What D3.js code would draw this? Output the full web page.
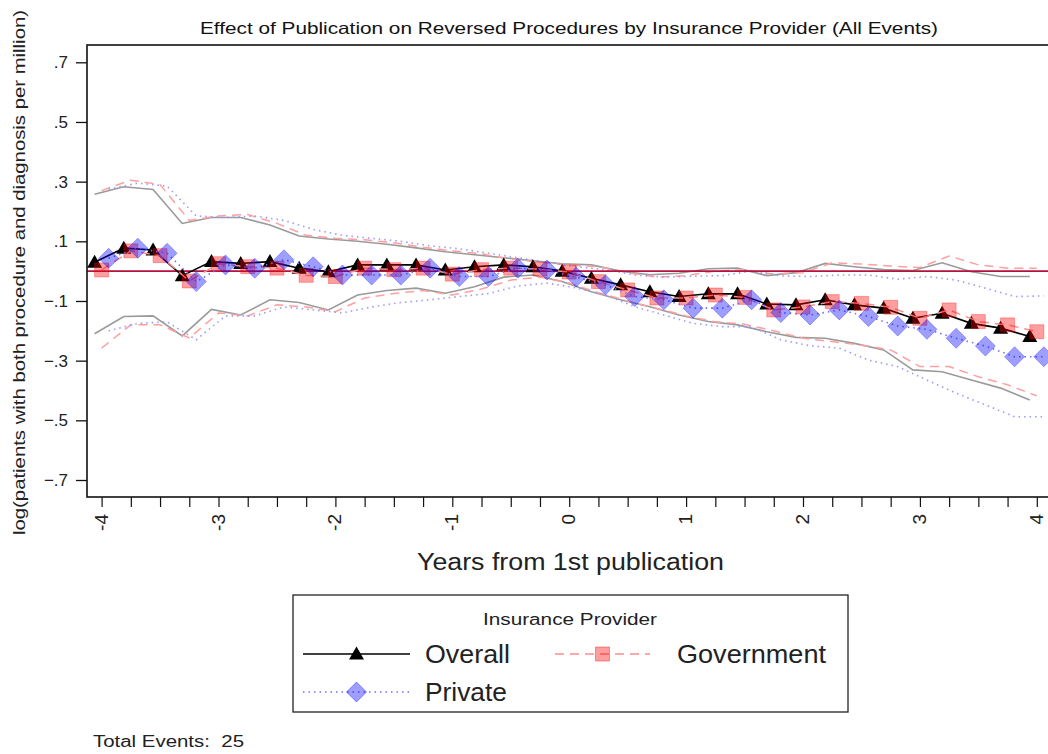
<!DOCTYPE html>
<html><head><meta charset="utf-8">
<script src="https://cdn.jsdelivr.net/npm/d3@7"></script>
<style>body{margin:0;background:#fff}svg{display:block;font-family:"Liberation Sans",Arial,Helvetica,sans-serif}</style>
</head><body><svg id="c" width="1048" height="754"></svg>
<script>
// ---- data ----
const years = [-4,-3.75,-3.5,-3.25,-3,-2.75,-2.5,-2.25,-2,-1.75,-1.5,-1.25,-1,-0.75,-0.5,-0.25,0,0.25,0.5,0.75,1,1.25,1.5,1.75,2,2.25,2.5,2.75,3,3.25,3.5,3.75,4];
const overall = [0.030,0.077,0.071,-0.015,0.032,0.026,0.032,0.010,-0.002,0.021,0.021,0.021,0.004,0.015,0.021,0.015,0.000,-0.024,-0.046,-0.069,-0.085,-0.076,-0.076,-0.110,-0.113,-0.096,-0.113,-0.124,-0.158,-0.141,-0.175,-0.191,-0.219];
const overallHi = [0.258,0.283,0.274,0.160,0.180,0.180,0.155,0.118,0.108,0.100,0.090,0.078,0.065,0.055,0.045,0.035,0.025,0.021,0.000,-0.012,-0.007,0.008,0.010,-0.015,-0.005,0.026,0.015,0.005,0.002,0.028,-0.002,-0.018,-0.018];
const overallLo = [-0.210,-0.152,-0.150,-0.217,-0.128,-0.147,-0.096,-0.105,-0.130,-0.080,-0.065,-0.057,-0.074,-0.052,-0.020,-0.013,-0.035,-0.069,-0.096,-0.119,-0.147,-0.169,-0.180,-0.203,-0.222,-0.225,-0.242,-0.264,-0.331,-0.337,-0.365,-0.392,-0.432];
const government = [0.004,0.068,0.052,-0.033,0.025,0.015,0.010,-0.014,-0.018,0.010,0.005,0.010,-0.010,0.005,0.010,0.007,-0.003,-0.035,-0.063,-0.090,-0.090,-0.080,-0.088,-0.130,-0.120,-0.102,-0.108,-0.121,-0.158,-0.130,-0.169,-0.180,-0.203];
const governmentHi = [0.270,0.305,0.290,0.170,0.185,0.190,0.160,0.120,0.110,0.105,0.095,0.080,0.068,0.058,0.040,0.030,0.020,0.015,-0.005,-0.020,-0.015,0.000,0.005,-0.010,-0.005,0.028,0.024,0.017,0.012,0.051,0.021,0.010,0.010];
const governmentLo = [-0.258,-0.180,-0.180,-0.224,-0.140,-0.150,-0.113,-0.120,-0.136,-0.090,-0.075,-0.065,-0.080,-0.060,-0.030,-0.020,-0.040,-0.072,-0.100,-0.125,-0.150,-0.170,-0.178,-0.200,-0.225,-0.236,-0.248,-0.264,-0.320,-0.320,-0.354,-0.381,-0.418];
const privateV = [0.043,0.077,0.060,-0.035,0.021,0.010,0.038,0.015,-0.013,-0.013,-0.013,0.010,-0.018,-0.018,0.010,0.004,-0.020,-0.046,-0.085,-0.096,-0.124,-0.124,-0.096,-0.139,-0.147,-0.130,-0.152,-0.184,-0.195,-0.225,-0.251,-0.287,-0.287];
const privateHi = [0.275,0.295,0.285,0.185,0.180,0.185,0.170,0.140,0.120,0.110,0.100,0.085,0.075,0.060,0.045,0.030,0.015,0.005,-0.013,-0.020,-0.017,-0.015,0.000,-0.016,-0.018,-0.013,-0.013,-0.027,-0.018,-0.030,-0.057,-0.085,-0.083];
const privateLo = [-0.200,-0.175,-0.170,-0.230,-0.150,-0.150,-0.120,-0.130,-0.140,-0.120,-0.105,-0.096,-0.085,-0.075,-0.050,-0.040,-0.056,-0.080,-0.119,-0.147,-0.175,-0.186,-0.186,-0.230,-0.250,-0.258,-0.298,-0.320,-0.365,-0.409,-0.448,-0.488,-0.488];
const xTicks = [-4,-3,-2,-1,0,1,2,3,4];
const yTicks = [0.7,0.5,0.3,0.1,-0.1,-0.3,-0.5,-0.7];
const seriesNames = ["Overall","Government","Private"];
const xShift = [-0.06,0,0.06];

// ---- layout ----
const svg = d3.select("#c");
const frame = {l:87, r:1052, t:45, b:497};
const x = d3.scaleLinear().domain([-4,4]).range([101.6,1036.8]);
const y = d3.scaleLinear().domain([-0.7,0.7]).range([480,62.3]);

function fitText(sel, len){ sel.attr("textLength",len).attr("lengthAdjust","spacingAndGlyphs"); return sel; }

// title
fitText(svg.append("text").attr("x",569).attr("y",34).attr("text-anchor","middle")
  .attr("font-size",16.5).attr("fill","#111")
  .text("Effect of Publication on Reversed Procedures by Insurance Provider (All Events)"), 738);

// y axis
const yAx = svg.append("g").attr("transform",`translate(${frame.l},0)`)
  .call(d3.axisLeft(y).tickValues(yTicks).tickSize(11).tickPadding(8)
    .tickFormat(d=>d3.format(".1f")(d).replace("0.",".")));
yAx.select(".domain").remove();
yAx.selectAll("line").attr("stroke","#111").attr("stroke-width",1.3);
yAx.selectAll("text").attr("font-size",17).attr("fill","#222").attr("font-family",null);

fitText(svg.append("text").attr("transform","translate(25,272.5) rotate(-90)")
  .attr("text-anchor","middle").attr("font-size",16).attr("fill","#222")
  .text("log(patients with both procedure and diagnosis per million)"), 525);

// x axis (quarterly ticks)
const xAx = svg.append("g").attr("transform",`translate(0,${frame.b})`)
  .call(d3.axisBottom(x).tickValues(years).tickSize(10).tickFormat(""));
xAx.select(".domain").remove();
xAx.selectAll("line").attr("stroke","#111").attr("stroke-width",1.2);
const xLab = svg.append("g");
xLab.selectAll("text").data(xTicks).join("text")
  .attr("transform",d=>`translate(${x(d)+6},${frame.b+17}) rotate(-90)`)
  .attr("text-anchor","end").attr("font-size",19).attr("fill","#222")
  .text(d=>String(d));
fitText(svg.append("text").attr("x",570.5).attr("y",570).attr("text-anchor","middle")
  .attr("font-size",23).attr("fill","#222").text("Years from 1st publication"), 307);

// plot area clip
svg.append("defs").append("clipPath").attr("id","pc").append("rect")
  .attr("x",frame.l).attr("y",frame.t).attr("width",frame.r-frame.l).attr("height",frame.b-frame.t);
const P = svg.append("g").attr("clip-path","url(#pc)");

const line = (vals, k) => d3.line().x((d,i)=>x(years[i]+xShift[k])).y(d=>y(d))(vals);

// CI lines
const ciStyles = [
  {stroke:"#9a9a9a", dash:null, w:1.6},
  {stroke:"#ff9f9f", dash:"9,6", w:1.5},
  {stroke:"#9a9aff", dash:"1.5,4", w:1.6}
];
[[overallHi,overallLo],[governmentHi,governmentLo],[privateHi,privateLo]].forEach((pair,k)=>{
  pair.forEach(v=>{
    P.append("path").attr("d",line(v,k)).attr("fill","none")
      .attr("stroke",ciStyles[k].stroke).attr("stroke-width",ciStyles[k].w)
      .attr("stroke-dasharray",ciStyles[k].dash);
  });
});

// zero line
P.append("line").attr("x1",frame.l).attr("x2",frame.r).attr("y1",y(0)).attr("y2",y(0))
  .attr("stroke","#b5123e").attr("stroke-width",1.6);

// marker shapes
const tri = "M0,-7.5L7.5,5.5L-7.5,5.5Z";
const sq = "M-7,-7H7V7H-7Z";
const dia = "M0,-10L10,0L0,10L-10,0Z";

// overall
P.append("path").attr("d",line(overall,0)).attr("fill","none").attr("stroke","#000").attr("stroke-width",1.6);
P.selectAll(".ov").data(overall).join("path").attr("class","ov")
  .attr("transform",(d,i)=>`translate(${x(years[i]+xShift[0])},${y(d)})`)
  .attr("d",tri).attr("fill","#000");
// government
P.append("path").attr("d",line(government,1)).attr("fill","none").attr("stroke","#ff8c8c")
  .attr("stroke-width",1.5).attr("stroke-dasharray","9,6");
P.selectAll(".gv").data(government).join("path").attr("class","gv")
  .attr("transform",(d,i)=>`translate(${x(years[i]+xShift[1])},${y(d)})`)
  .attr("d",sq).attr("fill","rgba(255,0,0,0.38)").attr("stroke","rgba(255,0,0,0.3)").attr("stroke-width",1);
// private
P.append("path").attr("d",line(privateV,2)).attr("fill","none").attr("stroke","#7070ff")
  .attr("stroke-width",1.6).attr("stroke-dasharray","1.5,4");
P.selectAll(".pv").data(privateV).join("path").attr("class","pv")
  .attr("transform",(d,i)=>`translate(${x(years[i]+xShift[2])},${y(d)})`)
  .attr("d",dia).attr("fill","rgba(0,0,255,0.38)").attr("stroke","rgba(0,0,255,0.3)").attr("stroke-width",1);

// frame
svg.append("rect").attr("x",frame.l).attr("y",frame.t).attr("width",frame.r-frame.l).attr("height",frame.b-frame.t)
  .attr("fill","none").attr("stroke","#111").attr("stroke-width",1.6);

// legend
const L = svg.append("g");
L.append("rect").attr("x",293).attr("y",595).attr("width",555).attr("height",117)
  .attr("fill","#fff").attr("stroke","#222").attr("stroke-width",1.3);
fitText(L.append("text").attr("x",570).attr("y",625).attr("text-anchor","middle").attr("font-size",16).attr("fill","#222").text("Insurance Provider"), 174);
const legItems = [
  {k:0, lx:303, rx:410, yy:654, tx:425, w:85},
  {k:1, lx:555, rx:650, yy:654, tx:677, w:149},
  {k:2, lx:303, rx:410, yy:692, tx:425, w:82}
];
const legStyle = [
  {stroke:"#000", dash:null, shape:tri, fill:"#000", sw:0},
  {stroke:"#ff8c8c", dash:"9,6", shape:sq, fill:"rgba(255,0,0,0.38)", sw:1},
  {stroke:"#7070ff", dash:"1.5,4", shape:dia, fill:"rgba(0,0,255,0.38)", sw:1}
];
legItems.forEach(it=>{
  const s = legStyle[it.k];
  L.append("line").attr("x1",it.lx).attr("x2",it.rx).attr("y1",it.yy).attr("y2",it.yy)
    .attr("stroke",s.stroke).attr("stroke-width",1.6).attr("stroke-dasharray",s.dash);
  L.append("path").attr("transform",`translate(${(it.lx+it.rx)/2},${it.yy})`).attr("d",s.shape)
    .attr("fill",s.fill).attr("stroke",s.sw? s.fill : "none");
  fitText(L.append("text").attr("x",it.tx).attr("y",it.yy+9).attr("font-size",25).attr("fill","#222").text(seriesNames[it.k]), it.w);
});

fitText(svg.append("text").attr("x",93).attr("y",747).attr("font-size",16).attr("fill","#222")
  .attr("xml:space","preserve").style("white-space","pre").text("Total Events:  25"), 151);
</script></body></html>
